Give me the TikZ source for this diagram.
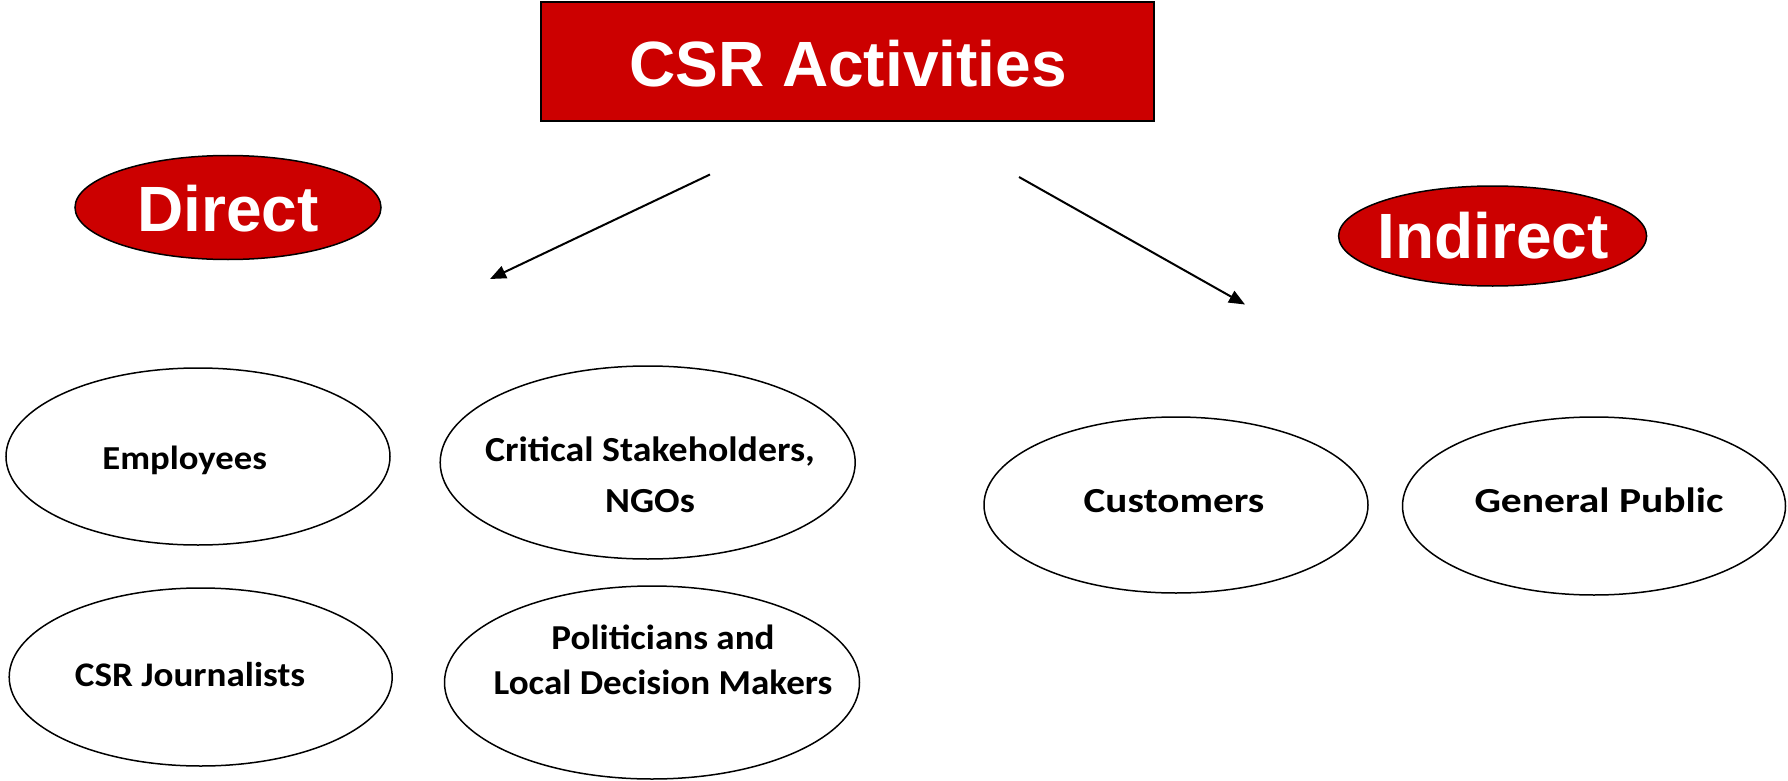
\documentclass[tikz,border=0pt]{standalone}
\usepackage{fontspec}
\usepackage{graphicx}
\setmainfont{Carlito}
\newfontfamily\headfont{Liberation Sans}
\usetikzlibrary{shapes.geometric,arrows.meta}
\definecolor{csrred}{HTML}{CC0000}
% widened label text: \widetext{x-factor}{text}
\newcommand\widetext[2]{\scalebox{#1}[1]{#2}}
\begin{document}
\begin{tikzpicture}[x=1pt,y=-1pt,
  headbox/.style={draw=black,line width=2pt,fill=csrred,minimum width=613pt,minimum height=119pt,inner sep=0pt},
  headoval/.style={ellipse,draw=black,line width=1.5pt,fill=csrred,inner sep=0pt},
  headtext/.style={text=white,font=\headfont\bfseries\fontsize{64}{72}\selectfont,inner sep=0pt},
  oval/.style={ellipse,draw=black,line width=1.5pt,fill=white,inner sep=0pt},
  ovaltext/.style={font=\bfseries,align=center,inner sep=0pt,anchor=base},
  flow/.style={line width=2pt,-{Triangle[length=16pt,width=13pt]}}]
\useasboundingbox (0,0) rectangle (1788,781);

% title and the two groups
\node[headbox] (title) at (847.5,61.5) {};
\node[headtext] (titleT) at (848,64) {CSR Activities};
\node[headoval,minimum width=306pt,minimum height=104pt] (direct) at (228,207.5) {};
\node[headtext] (directT) at (228,209) {Direct};
\node[headoval,minimum width=308pt,minimum height=100pt] (indirect) at (1492.6,236) {};
\node[headtext] (indirectT) at (1493,236) {Indirect};

% arrows from the title towards the groups
\coordinate (aStart) at (710,174.5);
\coordinate (aEnd) at (490,279);
\coordinate (bStart) at (1019,177);
\coordinate (bEnd) at (1245,304.5);
\draw[flow] (aStart) -- (aEnd);
\draw[flow] (bStart) -- (bEnd);

% direct stakeholders (two-line labels are placed by their last baseline)
\node[oval,minimum width=384pt,minimum height=177pt] (emp) at (198,456.5) {};
\node[ovaltext,font=\bfseries\fontsize{33.5}{40}\selectfont] (empT) at (184.7,469.3)
  {\widetext{1.095}{Employees}};
\node[oval,minimum width=415pt,minimum height=193pt] (crit) at (647.7,462.5) {};
\node[ovaltext,font=\bfseries\fontsize{35.2}{51.3}\selectfont] (critT) at (650,512.3)
  {\widetext{1.075}{Critical Stakeholders,}\\\widetext{1.075}{NGOs}};
\node[oval,minimum width=383pt,minimum height=178pt] (journ) at (200.7,677) {};
\node[ovaltext,font=\bfseries\fontsize{34.5}{40}\selectfont] (journT) at (190,686.7)
  {\widetext{1.075}{CSR Journalists}};
\node[oval,minimum width=415pt,minimum height=193pt] (pol) at (652,682.5) {};
\node[ovaltext,font=\bfseries\fontsize{35}{44.7}\selectfont] (polT) at (663,694)
  {\widetext{1.06}{Politicians and}\\\widetext{1.06}{Local Decision Makers}};

% indirect stakeholders
\node[oval,minimum width=384pt,minimum height=176pt] (cust) at (1176,505) {};
\node[ovaltext,font=\bfseries\fontsize{35.2}{42}\selectfont] (custT) at (1174,512.7)
  {\widetext{1.17}{Customers}};
\node[oval,minimum width=383pt,minimum height=178pt] (pub) at (1594,506) {};
\node[ovaltext,font=\bfseries\fontsize{35.2}{42}\selectfont] (pubT) at (1599,512.7)
  {\widetext{1.18}{General Public}};
\end{tikzpicture}
\end{document}
